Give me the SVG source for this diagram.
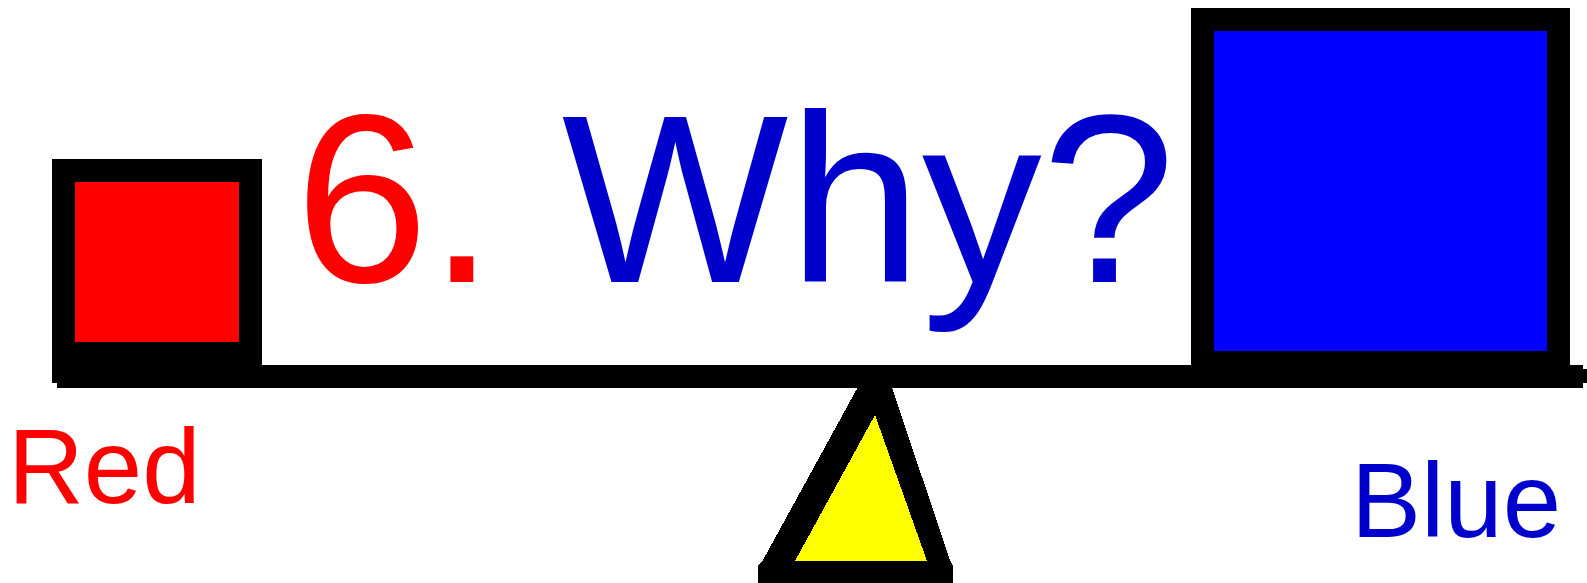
<svg xmlns="http://www.w3.org/2000/svg" width="1587" height="583" viewBox="0 0 1587 583">
  <style>
    .box { stroke: #000000; stroke-width: 23; }
    .txt { font-family: "Liberation Sans", Arial, sans-serif; }
    .red { fill: #FF0000; }
    .blue { fill: #0000CC; }
    .crisp { shape-rendering: crispEdges; }
  </style>
  <rect x="0" y="0" width="1587" height="583" fill="#FFFFFF"/>
  <g id="beam" class="crisp">
    <polygon points="52,365 1583,365 1583,369 1587,369 1587,383 1583,383 1583,388 57,388 57,383 52,383" fill="#000000"/>
  </g>
  <g id="redBox" class="crisp">
    <rect class="box" x="63.5" y="170.5" width="187" height="183" fill="#FF0000"/>
  </g>
  <g id="blueBox" class="crisp">
    <rect class="box" x="1202.5" y="19.5" width="356" height="343" fill="#0000FF"/>
  </g>
  <g id="fulcrum" class="crisp">
    <polygon points="859,385 891,385 950,560 953,566 953,583 758,583 758,566 763,560" fill="#000000"/>
    <polygon points="875,415 927,561 795,561" fill="#FFFF00"/>
  </g>
  <g id="title">
    <text class="txt" x="295" y="282" font-size="240"><tspan class="red">6.</tspan><tspan class="blue"> Why?</tspan></text>
  </g>
  <g id="labelRed">
    <text class="txt red" x="8" y="503" font-size="105">Red</text>
  </g>
  <g id="labelBlue">
    <text class="txt blue" x="1351" y="537" font-size="105">Blue</text>
  </g>
</svg>
